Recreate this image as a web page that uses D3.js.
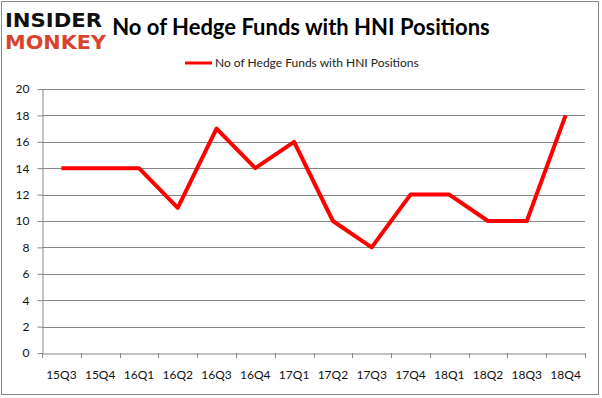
<!DOCTYPE html>
<html>
<head>
<meta charset="utf-8">
<script src="https://cdn.jsdelivr.net/npm/d3@7"></script>
<style>
  body { margin: 0; background: #fff; }
  svg { display: block; }
</style>
</head>
<body>
<div id="chart"></div>
<script>
const quarters = ['15Q3', '15Q4', '16Q1', '16Q2', '16Q3', '16Q4', '17Q1', '17Q2', '17Q3', '17Q4', '18Q1', '18Q2', '18Q3', '18Q4']
const funds = [14, 14, 14, 11, 17, 14, 16, 10, 8, 12, 12, 10, 10, 18]
const yTicks = [0, 2, 4, 6, 8, 10, 12, 14, 16, 18, 20]
const seriesName = 'No of Hedge Funds with HNI Positions'

const W = 602
const H = 398
const margin = { top: 89, left: 42, right: 17, bottom: 45 }
const width = W - margin.left - margin.right
const height = H - margin.top - margin.bottom

const root = d3.select('#chart')
  .append('svg')
  .attr('width', W)
  .attr('height', H)

// outer frame
root.append('rect')
  .attr('x', 1.5).attr('y', 1.5)
  .attr('width', 597).attr('height', 393)
  .attr('fill', 'none')
  .attr('stroke', '#888')
  .attr('stroke-width', 1)

// logo
const logo = root.append('g').attr('font-family', 'DejaVu Sans, sans-serif').attr('font-weight', 'bold')
logo.append('text').attr('x', 5).attr('y', 27).attr('font-size', 20)
  .attr('textLength', 97).attr('lengthAdjust', 'spacingAndGlyphs')
  .attr('fill', '#111').text('INSIDER')
logo.append('text').attr('x', 5).attr('y', 49).attr('font-size', 20)
  .attr('textLength', 101).attr('lengthAdjust', 'spacingAndGlyphs')
  .attr('fill', '#d8432e').text('MONKEY')

// title
root.append('text')
  .attr('x', 301).attr('y', 35)
  .attr('text-anchor', 'middle')
  .attr('font-family', 'Lato, sans-serif')
  .attr('font-weight', 'bold')
  .attr('font-size', 22)
  .attr('fill', '#000')
  .text(seriesName)

// legend
root.append('line')
  .attr('x1', 185).attr('x2', 212)
  .attr('y1', 63).attr('y2', 63)
  .attr('stroke', '#ff0000').attr('stroke-width', 3)
root.append('text')
  .attr('x', 215).attr('y', 67)
  .attr('font-family', 'Lato, sans-serif')
  .attr('font-size', 12)
  .attr('fill', '#222')
  .text(seriesName)

const svg = root.append('g')
  .attr('transform', 'translate(' + margin.left + ',' + margin.top + ')')

const xPositionScale = d3.scaleBand().domain(quarters).range([0, width])
const yPositionScale = d3.scaleLinear().domain([0, 20]).range([height, 0])

// gridlines
svg.selectAll('.grid')
  .data(yTicks.filter(d => d > 0))
  .enter()
  .append('line')
  .attr('class', 'grid')
  .attr('x1', 0).attr('x2', width)
  .attr('y1', d => Math.round(yPositionScale(d)) + 0.5)
  .attr('y2', d => Math.round(yPositionScale(d)) + 0.5)
  .attr('stroke', '#868686')

// y axis
const yAxis = svg.append('g')
  .attr('transform', 'translate(0.5,0)')
  .call(d3.axisLeft(yPositionScale).tickValues(yTicks).tickSize(5).tickPadding(8).tickSizeOuter(0))
yAxis.select('.domain').attr('stroke', '#868686')
yAxis.selectAll('line').attr('stroke', '#868686')
yAxis.selectAll('text')
  .attr('font-family', 'Lato, sans-serif')
  .attr('font-size', 12)
  .attr('fill', '#111')

// x axis
const xAxis = svg.append('g')
  .attr('transform', 'translate(0,' + (Math.round(height) + 0.5) + ')')
  .call(d3.axisBottom(xPositionScale).tickSize(0).tickPadding(17))
xAxis.select('.domain').attr('stroke', '#868686')
xAxis.selectAll('text')
  .attr('font-family', 'Lato, sans-serif')
  .attr('font-size', 12)
  .attr('fill', '#111')

svg.selectAll('.xtick')
  .data(quarters.concat(['end']))
  .enter()
  .append('line')
  .attr('class', 'xtick')
  .attr('x1', (d, i) => Math.round(i * xPositionScale.step()) + 0.5)
  .attr('x2', (d, i) => Math.round(i * xPositionScale.step()) + 0.5)
  .attr('y1', height)
  .attr('y2', height + 5)
  .attr('stroke', '#868686')

// line
const line = d3.line()
  .x((d, i) => xPositionScale(quarters[i]) + xPositionScale.bandwidth() / 2)
  .y(d => yPositionScale(d))

svg.append('path')
  .datum(funds)
  .attr('d', line)
  .attr('fill', 'none')
  .attr('stroke', '#ff0000')
  .attr('stroke-width', 4)
  .attr('stroke-linejoin', 'round')
</script>
</body>
</html>
